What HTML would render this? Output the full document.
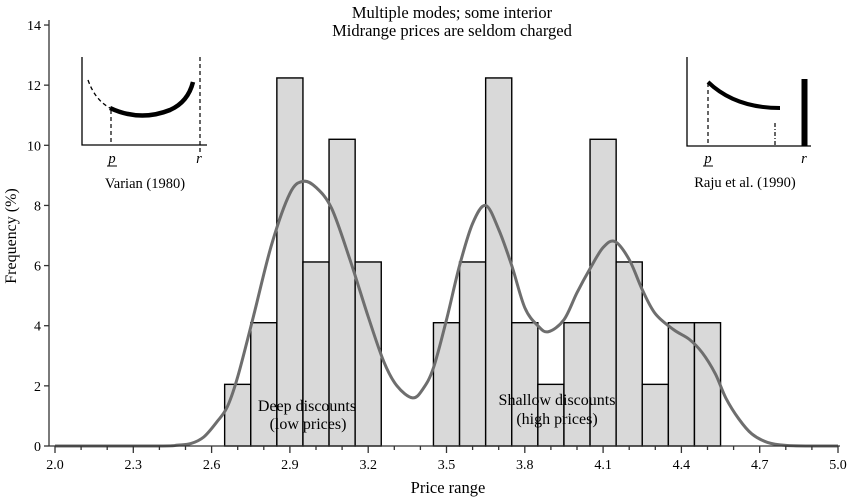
<!DOCTYPE html>
<html><head><meta charset="utf-8"><style>
html,body{margin:0;padding:0;background:#fff}
svg{display:block;font-family:"Liberation Serif",serif}
</style></head><body>
<svg id="s" width="850" height="499" viewBox="0 0 850 499" xmlns="http://www.w3.org/2000/svg">
<text x="452" y="18" font-size="16.5" text-anchor="middle">Multiple modes; some interior</text>
<text x="452" y="36" font-size="16.5" text-anchor="middle">Midrange prices are seldom charged</text>
<g id="bars" fill="#d9d9d9" stroke="#000" stroke-width="1.4"></g>
<path id="curve" fill="none" stroke="#6e6e6e" stroke-width="3" stroke-linejoin="round"/>
<g id="axes" stroke="#333" stroke-width="1.3" fill="none"></g>
<g id="labels" font-size="14"></g>
<text x="448" y="493" font-size="16.5" text-anchor="middle">Price range</text>
<text transform="translate(16,236) rotate(-90)" font-size="16" text-anchor="middle">Frequency (%)</text>
<text x="307" y="411" font-size="16" text-anchor="middle">Deep discounts</text>
<text x="308" y="429" font-size="16" text-anchor="middle">(low prices)</text>
<text x="557" y="405" font-size="16" text-anchor="middle">Shallow discounts</text>
<text x="557" y="424" font-size="16" text-anchor="middle">(high prices)</text>
<g fill="none" stroke="#000">
<path d="M82 57 V145 H207" stroke-width="1.3"/>
<path d="M200 57 V152" stroke-width="1.2" stroke-dasharray="4,3"/>
<path d="M111 110 V145" stroke-width="1.2" stroke-dasharray="4,3"/>
<path d="M88 80 Q95 100 110 108" stroke-width="1.3" stroke-dasharray="4,3"/>
<path d="M110 108 Q140 122 170 110 Q188 102 193 82" stroke-width="4.5"/>
<path d="M687 57 V146 H811" stroke-width="1.3"/>
<path d="M708 83 V146" stroke-width="1.2" stroke-dasharray="4,3"/>
<path d="M775 123 V146" stroke-width="1.2" stroke-dasharray="4,2,1,2"/>
<path d="M708 82 Q735 108 780 108" stroke-width="4"/>
<path d="M804.5 79 V146" stroke-width="6"/>
</g>
<g font-size="14.5">
<text x="112" y="163" text-anchor="middle" font-style="italic">p</text>
<line x1="107" y1="166" x2="117" y2="166" stroke="#000"/>
<text x="199" y="163" text-anchor="middle" font-style="italic">r</text>
<text x="145" y="188" text-anchor="middle">Varian (1980)</text>
<text x="708" y="163" text-anchor="middle" font-style="italic">p</text>
<line x1="703" y1="166" x2="713" y2="166" stroke="#000"/>
<text x="804" y="163" text-anchor="middle" font-style="italic">r</text>
<text x="745" y="187" text-anchor="middle">Raju et al. (1990)</text>
</g>
</svg>
<script>
var X=function(v){return 55+(v-2)*261;}, Y=function(v){return 446-v*30.07;};
var ns="http://www.w3.org/2000/svg";
var bars=[[2.65,2.05],[2.75,4.1],[2.85,12.24],[2.95,6.12],[3.05,10.2],[3.15,6.12],
[3.45,4.1],[3.55,6.12],[3.65,12.24],[3.75,4.1],[3.85,2.05],[3.95,4.1],[4.05,10.2],[4.15,6.12],[4.25,2.05],[4.35,4.1],[4.45,4.1]];
var g=document.getElementById('bars');
bars.forEach(function(b){var r=document.createElementNS(ns,'rect');
r.setAttribute('x',X(b[0]));r.setAttribute('y',Y(b[1]));r.setAttribute('width',26.1);r.setAttribute('height',446-Y(b[1]));g.appendChild(r);});
var pts=[[2.0,0],[2.4,0],[2.47,0.03],[2.52,0.08],[2.57,0.3],[2.62,0.8],[2.66,1.3],[2.7,2.3],[2.76,4.3],[2.83,6.7],[2.9,8.4],[2.95,8.8],[3.0,8.6],[3.06,7.9],[3.13,6.2],[3.2,4.3],[3.26,2.8],[3.31,2.0],[3.37,1.6],[3.41,1.9],[3.45,2.6],[3.5,4.2],[3.55,6.0],[3.6,7.4],[3.65,8.0],[3.7,7.2],[3.75,6.0],[3.8,4.6],[3.85,4.0],[3.89,3.8],[3.95,4.2],[4.0,5.1],[4.05,5.9],[4.1,6.6],[4.145,6.8],[4.2,6.2],[4.25,5.2],[4.3,4.4],[4.37,3.87],[4.43,3.55],[4.48,3.1],[4.53,2.4],[4.57,1.6],[4.62,0.9],[4.67,0.4],[4.73,0.12],[4.8,0.02],[4.9,0],[5.0,0]];
var P=pts.map(function(p){return [X(p[0]),Y(p[1])];});
var d="M"+P[0][0]+" "+P[0][1];
for(var i=0;i<P.length-1;i++){var p0=P[i-1]||P[i],p1=P[i],p2=P[i+1],p3=P[i+2]||P[i+1];
d+=" C"+(p1[0]+(p2[0]-p0[0])/6)+" "+(p1[1]+(p2[1]-p0[1])/6)+" "+(p2[0]-(p3[0]-p1[0])/6)+" "+(p2[1]-(p3[1]-p1[1])/6)+" "+p2[0]+" "+p2[1];}
document.getElementById('curve').setAttribute('d',d);
var a=document.getElementById('axes'),L=document.getElementById('labels');
function line(x1,y1,x2,y2){var l=document.createElementNS(ns,'line');l.setAttribute('x1',x1);l.setAttribute('y1',y1);l.setAttribute('x2',x2);l.setAttribute('y2',y2);a.appendChild(l);}
function txt(x,y,s,anc){var t=document.createElementNS(ns,'text');t.setAttribute('x',x);t.setAttribute('y',y);t.setAttribute('text-anchor',anc);t.textContent=s;L.appendChild(t);}
line(49,20,49,446.5);line(49,446,840,446);
for(var v=0;v<=14;v+=2){line(44,Y(v),49,Y(v));txt(41,Y(v)+5,String(v),'end');}
for(var k=0;k<=30;k++){var xv=2+k*0.1,big=(k%3==0);line(X(xv),446,X(xv),big?453:450);
if(big)txt(X(xv),469,xv.toFixed(1),'middle');}
</script>
</body></html>
